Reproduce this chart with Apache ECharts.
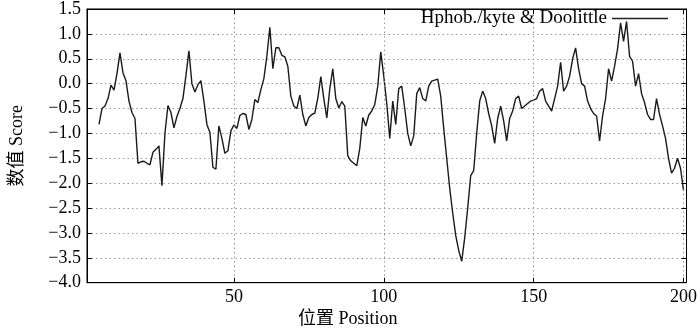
<!DOCTYPE html>
<html><head><meta charset="utf-8">
<script src="https://cdn.jsdelivr.net/npm/echarts@6/dist/echarts.min.js"></script>
<style>html,body{margin:0;padding:0;background:#fff}#c{width:700px;height:330px}</style>
</head><body><div id="c"></div>
<script>
const seriesName = 'Hphob./kyte & Doolittle';
const xAxisTitle = '位置 Position';
const yAxisTitle = '数值 Score';
const xTickValues = [50, 100, 150, 200];
const yMin = -4.0, yMax = 1.5, yStep = 0.5;
const xMin = 1, xMax = 201;
const startPosition = 5;
// Kyte & Doolittle hydrophobicity score, positions 5..200
const scores = [
  -0.82, -0.50, -0.45, -0.30, -0.03, -0.13, 0.20, 0.62, 0.22, 0.06,   // 5-14
  -0.35, -0.58, -0.70, -1.60, -1.57, -1.56, -1.60, -1.63, -1.38, -1.32, // 15-24
  -1.25, -2.05, -1.00, -0.44, -0.58, -0.89, -0.66, -0.50, -0.30, 0.16,  // 25-34
  0.66, 0.00, -0.17, -0.02, 0.06, -0.35, -0.82, -0.98, -1.68, -1.72,   // 35-44
  -0.85, -1.10, -1.40, -1.35, -0.95, -0.83, -0.90, -0.64, -0.60, -0.62, // 45-54
  -0.92, -0.72, -0.32, -0.38, -0.12, 0.10, 0.55, 1.13, 0.30, 0.72,     // 55-64
  0.72, 0.57, 0.54, 0.35, -0.25, -0.45, -0.50, -0.23, -0.62, -0.85,    // 65-74
  -0.68, -0.62, -0.59, -0.29, 0.14, -0.30, -0.69, -0.10, 0.30, -0.30,  // 75-84
  -0.49, -0.36, -0.45, -1.45, -1.55, -1.60, -1.65, -1.30, -0.68, -0.85, // 85-94
  -0.63, -0.55, -0.42, -0.05, 0.64, 0.15, -0.40, -1.10, -0.35, -0.82,  // 95-104
  -0.10, -0.05, -0.50, -1.00, -1.25, -1.05, -0.20, -0.08, -0.30, -0.35, // 105-114
  -0.05, 0.05, 0.07, 0.09, -0.25, -0.90, -1.50, -2.10, -2.60, -3.05,   // 115-124
  -3.35, -3.57, -3.10, -2.50, -1.85, -1.75, -1.00, -0.35, -0.15, -0.30, // 125-134
  -0.60, -0.85, -1.20, -0.70, -0.45, -0.75, -1.15, -0.70, -0.55, -0.30, // 135-144
  -0.25, -0.50, -0.45, -0.40, -0.35, -0.33, -0.30, -0.15, -0.10, -0.35, // 145-154
  -0.45, -0.55, -0.30, -0.05, 0.43, -0.15, -0.05, 0.15, 0.50, 0.72,    // 155-164
  0.30, 0.00, -0.05, -0.35, -0.50, -0.60, -0.65, -1.15, -0.65, -0.30,  // 165-174
  0.30, 0.05, 0.35, 0.70, 1.22, 0.85, 1.25, 0.55, 0.45, -0.05,         // 175-184
  0.20, -0.20, -0.38, -0.62, -0.72, -0.72, -0.30, -0.62, -0.85, -1.10, // 185-194
  -1.50, -1.80, -1.70, -1.50, -1.70, -2.15                             // 195-200
];

const serif = '"Liberation Serif", "Times New Roman", "Noto Sans CJK SC", serif';
const fmtY = v => v.toFixed(1).replace('-', '\u2212');
const data = scores.map((v, i) => [startPosition + i, v]);
const chart = echarts.init(document.getElementById('c'), null, {renderer: 'canvas'});
const dotted = {show: true, lineStyle: {color: '#999', width: 1, type: [1.5, 3]}};
chart.setOption({
  animation: false,
  backgroundColor: '#fff',
  grid: {left: 82.5, right: 12.7, top: 6.6, bottom: 47.3, show: true, borderColor: '#000', borderWidth: 1, backgroundColor: 'transparent'},
  title: {text: xAxisTitle, left: 298, top: 310, textStyle: {fontFamily: serif, fontSize: 18, fontWeight: 'normal', color: '#000'}, padding: 0},
  legend: {
    data: [seriesName], right: 28, top: 9, align: 'right', itemWidth: 56, itemHeight: 1.4,
    icon: 'rect', itemStyle: {color: '#222'}, z: 1,
    backgroundColor: '#fff', padding: [0, 4, 0, 6],
    textStyle: {fontFamily: serif, fontSize: 19, color: '#000', lineHeight: 19}
  },
  xAxis: [{
    type: 'value', min: xMin, max: xMax, position: 'bottom', z: 3,
    axisLine: {show: true, onZero: false, lineStyle: {color: '#000', width: 1}},
    axisTick: {show: true, inside: true, length: 5, customValues: xTickValues, lineStyle: {color: '#000'}},
    axisLabel: {customValues: xTickValues, color: '#000', fontFamily: serif, fontSize: 18, margin: 6},
    splitLine: dotted
  }, {
    type: 'value', min: xMin, max: xMax, position: 'top', z: 3,
    axisLine: {show: true, onZero: false, lineStyle: {color: '#000', width: 1}},
    axisTick: {show: true, inside: true, length: 5, customValues: xTickValues, lineStyle: {color: '#000'}},
    axisLabel: {show: false}, splitLine: {show: false}
  }],
  yAxis: [{
    type: 'value', min: yMin, max: yMax, interval: yStep,
    axisLine: {show: true, onZero: false, lineStyle: {color: '#000', width: 1}},
    axisTick: {show: true, inside: true, length: 5, lineStyle: {color: '#000'}},
    axisLabel: {formatter: fmtY, color: '#000', fontFamily: serif, fontSize: 18, margin: 6},
    splitLine: dotted,
    name: yAxisTitle, nameLocation: 'middle', nameGap: 61, nameRotate: 90,
    nameTextStyle: {fontFamily: serif, fontSize: 18, color: '#000'}
  }, {
    type: 'value', min: yMin, max: yMax, interval: yStep, position: 'right', z: 3,
    axisLine: {show: true, onZero: false, lineStyle: {color: '#000', width: 1}},
    axisTick: {show: true, inside: true, length: 5, lineStyle: {color: '#000'}},
    axisLabel: {show: false}, splitLine: {show: false}
  }],
  series: [{
    name: seriesName, type: 'line', data: data, symbol: 'none', showSymbol: false,
    xAxisIndex: 0, yAxisIndex: 0, z: 2,
    lineStyle: {color: '#1a1a1a', width: 1.4}, itemStyle: {color: '#1a1a1a'}
  }]
});
</script>
</body></html>
